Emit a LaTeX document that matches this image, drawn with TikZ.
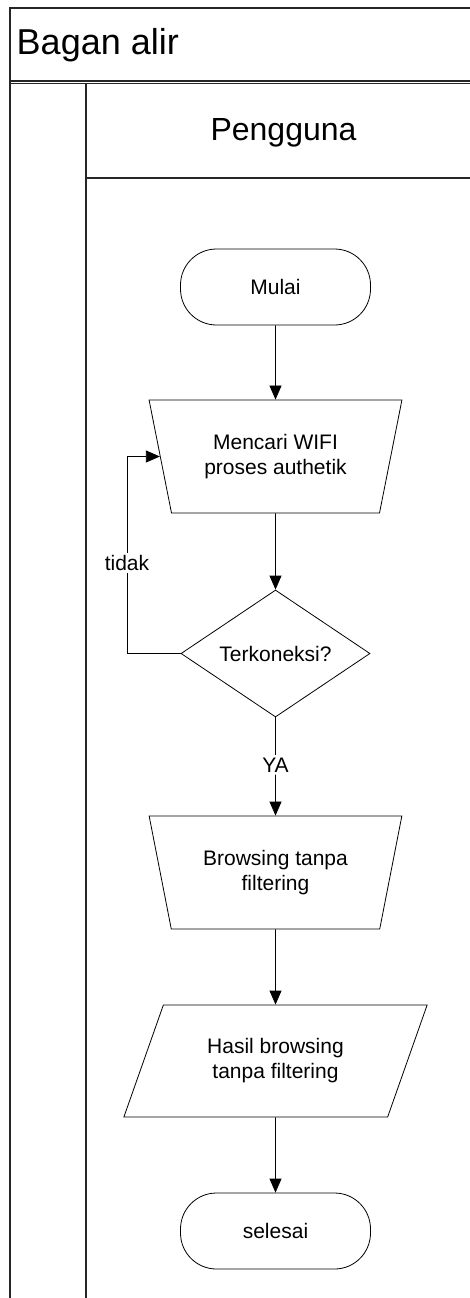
\documentclass[tikz,border=0pt]{standalone}
\usepackage{fontspec}
\setmainfont{Liberation Sans}
\usetikzlibrary{shapes.geometric, arrows.meta, positioning}

\tikzset{
    frame/.style={line width=1.2pt, black!85},
    txt/.style={font=\fontsize{21}{25}\selectfont, align=center},
    terminal/.style={txt, draw, rounded corners=36pt, minimum width=190pt, minimum height=76pt},
    manual/.style={txt, draw, trapezium, trapezium stretches=true, shape border rotate=180,
        trapezium angle=72, minimum width=253pt, minimum height=113pt, inner sep=2pt},
    decision/.style={txt, draw, diamond, aspect=1.5, minimum width=189pt, minimum height=127pt, inner sep=0pt},
    data/.style={txt, draw, trapezium, trapezium stretches=true, trapezium left angle=63,
        trapezium right angle=117, minimum width=304pt, minimum height=112pt, inner sep=2pt},
    lbl/.style={txt, inner sep=2pt}
}

\begin{document}
\begin{tikzpicture}[x=1pt, y=-1pt, line width=0.8pt, >={Triangle[length=14pt, width=12pt]}]
    \useasboundingbox (0,0) rectangle (470,1298);

    % Swimlane frame
    \draw[frame] (10,1298) -- (10,8) -- (470,8);
    \draw[frame] (10,81) -- (470,81);
    \draw[frame] (10,83.5) -- (470,83.5);
    \draw[frame] (86,1298) -- (86,83.5);
    \draw[frame] (86,178) -- (470,178);
    \node[anchor=base west, font=\fontsize{36}{40}\selectfont] (judul) at (13,55) {Bagan alir};
    \node[anchor=base, font=\fontsize{32}{36}\selectfont] (lane) at (283.5,140) {Pengguna};

    % Flow
    \node[terminal] (mulai) at (275.5,287) {Mulai};
    \node[manual] (cari) at (275.5,456.5) {Mencari WIFI\\proses authetik};
    \node[decision] (cek) at (275.5,653.5) {Terkoneksi?};
    \node[lbl] (tidak) at (127,563) {tidak};
    \node[lbl] (ya) at (275.5,765) {YA};
    \node[manual] (browse) at (275.5,872.5) {Browsing tanpa\\filtering};
    \node[data] (hasil) at (275.5,1061) {Hasil browsing\\tanpa filtering};
    \node[terminal] (selesai) at (275.5,1231) {selesai};

    % Connectors
    \draw[->] (mulai) -- (cari);
    \draw[->] (cari) -- (cek);
    \draw (cek.west) -| (tidak);
    \draw[->] (tidak) |- (cari.west);
    \draw (cek) -- (ya);
    \draw[->] (ya) -- (browse);
    \draw[->] (browse) -- (hasil);
    \draw[->] (hasil) -- (selesai);
\end{tikzpicture}
\end{document}
